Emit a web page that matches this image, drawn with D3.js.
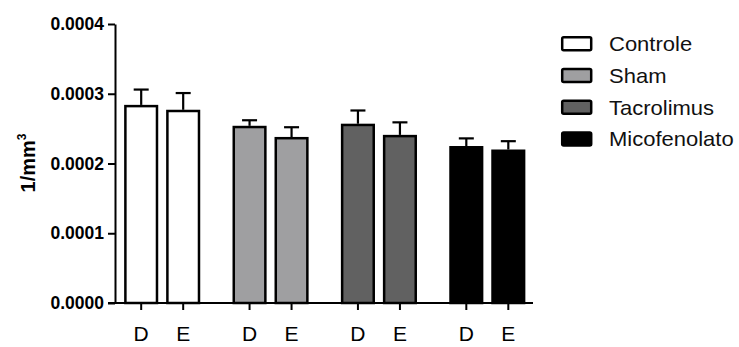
<!DOCTYPE html>
<html>
<head>
<meta charset="utf-8">
<script src="https://cdn.jsdelivr.net/npm/d3@7"></script>
<style>
  html, body { margin: 0; padding: 0; background: #fff; }
  svg { display: block; font-family: "Liberation Sans", Arial, sans-serif; }
</style>
</head>
<body>
<svg id="chart" width="739" height="347"></svg>
<script>
// Treatment groups, each measured on side D and side E
const groups = ["Controle", "Sham", "Tacrolimus", "Micofenolato"];
const sides = ["D", "E"];
const fills = ["#ffffff", "#9f9fa1", "#616161", "#000000"];

// Mean density (1/mm³) per group, [D, E]
const meanD = [0.000284, 0.000254, 0.000257, 0.000225];
const meanE = [0.000277, 0.000238, 0.000241, 0.000220];
// Upper error (SEM) per group, [D, E]
const errD = [0.000022, 0.000008, 0.000019, 0.000011];
const errE = [0.000024, 0.000014, 0.000018, 0.000012];

const yTicks = [0, 0.0001, 0.0002, 0.0003, 0.0004];

const svg = d3.select("#chart");

const y = d3.scaleLinear().domain([0, 0.0004]).range([303, 24]);
const x0 = d3.scaleBand().domain(groups).range([108, 541.5]).padding(0);
const x1 = d3.scaleBand().domain(sides).range([0, 76]).paddingInner(8 / 42).paddingOuter(0);
const innerOffset = (x0.bandwidth() - 76) / 2;

const rows = [];
groups.forEach((g, i) => {
  rows.push({ group: g, side: "D", value: meanD[i], err: errD[i], fill: fills[i] });
  rows.push({ group: g, side: "E", value: meanE[i], err: errE[i], fill: fills[i] });
});
const bx = d => x0(d.group) + innerOffset + x1(d.side);
const cx = d => bx(d) + x1.bandwidth() / 2;

// Error bars (upper only), drawn behind the bars
const eb = svg.append("g").attr("stroke", "#000").attr("stroke-width", 2.2);
eb.selectAll("line.v").data(rows).join("line")
  .attr("x1", cx).attr("x2", cx)
  .attr("y1", d => y(d.value)).attr("y2", d => y(d.value + d.err));
eb.selectAll("line.c").data(rows).join("line")
  .attr("x1", d => cx(d) - 7.5).attr("x2", d => cx(d) + 7.5)
  .attr("y1", d => y(d.value + d.err)).attr("y2", d => y(d.value + d.err));

// Bars
svg.append("g").selectAll("rect").data(rows).join("rect")
  .attr("x", d => bx(d) + 1.2)
  .attr("width", x1.bandwidth() - 2.4)
  .attr("y", d => y(d.value) + 1.2)
  .attr("height", d => y(0) - y(d.value) - 1.2)
  .attr("fill", d => d.fill)
  .attr("stroke", "#000")
  .attr("stroke-width", 2.5);

// Y axis
const yAxis = svg.append("g").attr("transform", "translate(115,0)")
  .call(d3.axisLeft(y).tickValues(yTicks).tickFormat(d3.format(".4f")).tickSize(7).tickSizeOuter(0).tickPadding(4));
yAxis.selectAll("path, line").attr("stroke", "#000").attr("stroke-width", 2);
yAxis.selectAll("text").attr("font-size", 17.5).attr("font-weight", "bold").attr("fill", "#000")
  .attr("font-family", "Liberation Sans, Arial, sans-serif");

// X axis baseline
svg.append("line")
  .attr("x1", 108).attr("x2", x0.range()[1] - 8.5)
  .attr("y1", y(0)).attr("y2", y(0))
  .attr("stroke", "#000").attr("stroke-width", 2);

// D / E ticks and labels per group
groups.forEach(g => {
  const ax = svg.append("g")
    .attr("transform", `translate(${x0(g) + innerOffset},${y(0)})`)
    .call(d3.axisBottom(x1).tickSize(7).tickSizeOuter(0).tickPadding(16));
  ax.select(".domain").remove();
  ax.selectAll("line").attr("stroke", "#000").attr("stroke-width", 2);
  ax.selectAll("text").attr("font-size", 21).attr("fill", "#000")
    .attr("font-family", "Liberation Sans, Arial, sans-serif");
});

// Y axis title
const title = svg.append("text")
  .attr("transform", "translate(35,163) rotate(-90)")
  .attr("text-anchor", "middle")
  .attr("font-size", 20).attr("font-weight", "bold").attr("fill", "#000");
title.append("tspan").text("1/mm");
title.append("tspan").attr("font-size", 12).attr("dy", -9).text("3");

// Legend
const legend = svg.append("g").attr("transform", "translate(561,36)");
const li = legend.selectAll("g").data(groups).join("g")
  .attr("transform", (d, i) => `translate(0,${i * 31.8})`);
li.append("rect")
  .attr("x", 1.2).attr("y", 1.2).attr("width", 29).attr("height", 13)
  .attr("rx", 1.5)
  .attr("fill", (d, i) => fills[i]).attr("stroke", "#000").attr("stroke-width", 2.5);
li.append("text")
  .attr("transform", "translate(48,15) scale(1.1,1)")
  .attr("font-size", 20).attr("fill", "#111")
  .text(d => d);
</script>
</body>
</html>
